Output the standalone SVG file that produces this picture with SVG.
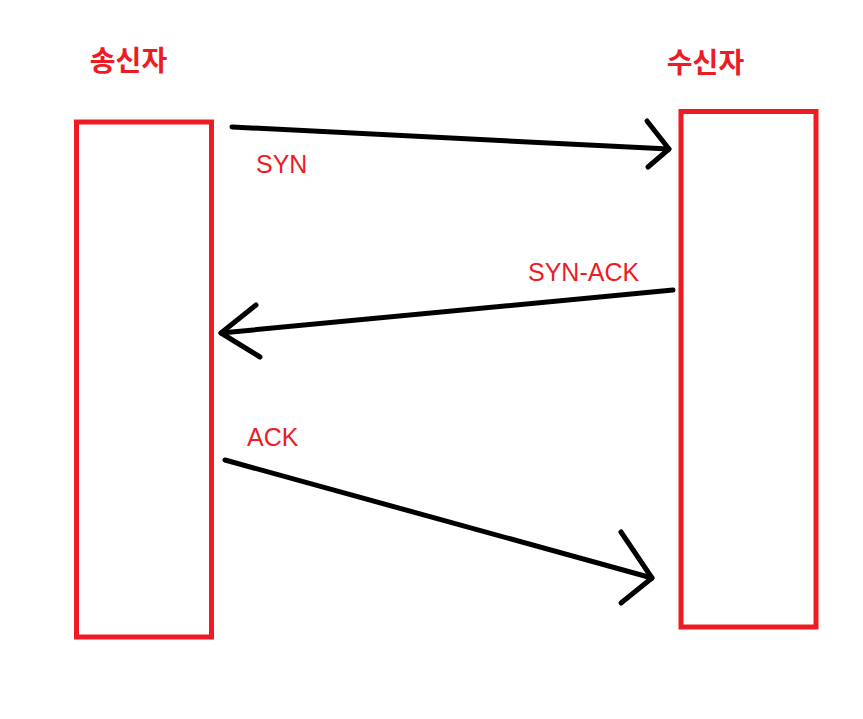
<svg xmlns="http://www.w3.org/2000/svg" width="863" height="719" viewBox="0 0 863 719">
<style>
.box{fill:none;stroke:#ed1c24;stroke-width:5}
.title{font-family:"Noto Sans CJK KR","Noto Sans",sans-serif;font-weight:bold;font-size:28px;fill:#ed1c24;text-anchor:middle}
.lbl{font-family:"Liberation Sans",Arial,sans-serif;font-size:25px;fill:#ed1c24}
.arr{fill:none;stroke:#000;stroke-width:5;stroke-linecap:round;stroke-linejoin:round}
</style>
<rect width="863" height="719" fill="#fff"/>
<g id="sender">
<text class="title" x="128.5" y="71">송신자</text>
<rect class="box" x="76.5" y="122" width="135" height="515"/>
</g>
<g id="receiver">
<text class="title" x="705.5" y="73">수신자</text>
<rect class="box" x="681" y="111.5" width="135" height="515.5"/>
</g>
<g id="connectors">
<g id="syn">
<path class="arr" d="M232,127 L669,149"/>
<path class="arr" d="M647,121 L669,149 L648,167"/>
<text class="lbl" x="256" y="173">SYN</text>
</g>
<g id="syn-ack">
<path class="arr" d="M673,290 L221,333"/>
<path class="arr" d="M256,305 L221,333 L260,357"/>
<text class="lbl" x="528" y="281">SYN-ACK</text>
</g>
<g id="ack">
<path class="arr" d="M225,460 L652,578"/>
<path class="arr" d="M621,532 L652,578 L621,603"/>
<text class="lbl" x="247" y="446">ACK</text>
</g>
</g>
</svg>
